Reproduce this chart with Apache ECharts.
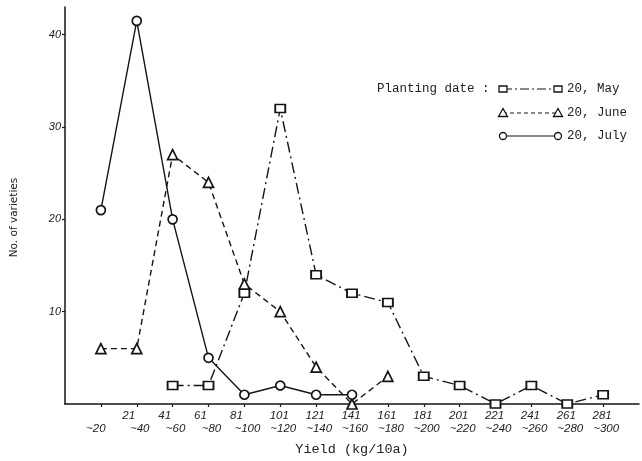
<!DOCTYPE html>
<html>
<head>
<meta charset="utf-8">
<script src="https://cdn.jsdelivr.net/npm/echarts@6/dist/echarts.min.js"></script>
<style>html,body{margin:0;padding:0;background:#fff;}#c{width:642px;height:461px;}</style>
</head>
<body>
<div id="c"></div>
<script>
// ---- data ----
const categories = ['~20','21~40','41~60','61~80','81~100','101~120','121~140','141~160','161~180','181~200','201~220','221~240','241~260','261~280','281~300'];
const yTickValues = [10, 20, 30, 40];
const seriesNames = ['20, May', '20, June', '20, July'];
const mayValues  = [null, null, 2, 2, 12, 32, 14, 12, 11, 3, 2, 0, 2, 0, 1];
const juneValues = [6, 6, 27, 24, 13, 10, 4, 0, 3];
const julyValues = [21, 41.5, 20, 5, 1, 2, 1, 1];

const ink = '#151515';
const axisCats = [''].concat(categories, ['']);
const pad = arr => [null].concat(arr);

const chart = echarts.init(document.getElementById('c'), null, {renderer: 'canvas'});

function legendRow(y, name, dash, sym) {
  const x1 = 503, x2 = 558;
  const els = [{
    type: 'line', shape: {x1: x1, y1: y, x2: x2, y2: y},
    style: {stroke: ink, lineWidth: 1.2, lineDash: dash}
  }];
  [x1, x2].forEach(x => {
    if (sym === 'rect') els.push({type: 'rect', shape: {x: x - 4, y: y - 3, width: 8, height: 6}, style: {fill: '#fff', stroke: ink, lineWidth: 1.3}, z: 2});
    if (sym === 'triangle') els.push({type: 'polygon', shape: {points: [[x, y - 4.5], [x - 4.5, y + 3.5], [x + 4.5, y + 3.5]]}, style: {fill: '#fff', stroke: ink, lineWidth: 1.3}, z: 2});
    if (sym === 'circle') els.push({type: 'circle', shape: {cx: x, cy: y, r: 3.5}, style: {fill: '#fff', stroke: ink, lineWidth: 1.3}, z: 2});
  });
  els.push({type: 'text', x: 567, y: y, style: {text: name, font: '12.5px "Liberation Mono"', fill: '#222', verticalAlign: 'middle'}});
  return els;
}

const option = {
  backgroundColor: '#fff',
  animation: false,
  grid: {left: 65, right: -5, top: 7, bottom: 53, containLabel: false},
  xAxis: {
    type: 'category',
    data: axisCats,
    boundaryGap: false,
    name: 'Yield (kg/10a)',
    nameLocation: 'middle',
    nameGap: 38,
    nameTextStyle: {fontFamily: 'Liberation Mono', fontSize: 13.5, color: '#222', verticalAlign: 'top'},
    axisLine: {lineStyle: {color: ink, width: 1.5}},
    axisTick: {show: true, length: 3, interval: (i) => i > 0 && i <= categories.length, lineStyle: {color: ink, width: 1.2}},
    axisLabel: {
      interval: 0,
      margin: 5,
      color: '#222',
      formatter: function (v) {
        if (!v) return '';
        const parts = v.split('~');
        if (parts[0] === '') return '{a| }\n{c|~' + parts[1] + '}';
        const aStyle = parts[0].length < 3 ? 'a2' : 'a';
        return '{' + aStyle + '|' + parts[0] + '}\n{b|~' + parts[1] + '}';
      },
      rich: {
        a:  {fontFamily: 'Liberation Sans', fontStyle: 'italic', fontSize: 11.5, lineHeight: 13, padding: [0, 2, 0, 0]},
        a2: {fontFamily: 'Liberation Sans', fontStyle: 'italic', fontSize: 11.5, lineHeight: 13, padding: [0, 16, 0, 0]},
        b:  {fontFamily: 'Liberation Sans', fontStyle: 'italic', fontSize: 11.5, lineHeight: 13, padding: [0, 0, 0, 6]},
        c:  {fontFamily: 'Liberation Sans', fontStyle: 'italic', fontSize: 11.5, lineHeight: 13, padding: [0, 10, 0, 0]}
      }
    },
    splitLine: {show: false}
  },
  yAxis: {
    type: 'value',
    min: 0,
    max: 43,
    name: 'No. of varieties',
    nameLocation: 'middle',
    nameGap: 45,
    nameRotate: 90,
    nameTextStyle: {fontFamily: 'DejaVu Sans', fontSize: 10.5, color: '#222', padding: [0, 24, 0, 0]},
    axisLine: {show: true, lineStyle: {color: ink, width: 1.5}},
    axisTick: {show: true, length: 3, customValues: yTickValues, lineStyle: {color: ink, width: 1.2}},
    axisLabel: {customValues: yTickValues, margin: 4, fontFamily: 'Liberation Sans', fontStyle: 'italic', fontSize: 11, color: '#222'},
    splitLine: {show: false}
  },
  series: [
    {
      name: seriesNames[0], type: 'line', data: pad(mayValues),
      symbol: 'rect', symbolSize: [10, 8], showAllSymbol: true,
      lineStyle: {color: ink, width: 1.4, type: [11, 4, 2, 4]},
      itemStyle: {color: '#fff', borderColor: ink, borderWidth: 1.7}, z: 3
    },
    {
      name: seriesNames[1], type: 'line', data: pad(juneValues),
      symbol: 'triangle', symbolSize: [10, 10], showAllSymbol: true,
      lineStyle: {color: ink, width: 1.4, type: [6, 4]},
      itemStyle: {color: '#fff', borderColor: ink, borderWidth: 1.7}, z: 3
    },
    {
      name: seriesNames[2], type: 'line', data: pad(julyValues),
      symbol: 'circle', symbolSize: 9, showAllSymbol: true,
      lineStyle: {color: ink, width: 1.4, type: 'solid'},
      itemStyle: {color: '#fff', borderColor: ink, borderWidth: 1.7}, z: 3
    }
  ],
  graphic: [
    {type: 'text', x: 377, y: 89, style: {text: 'Planting date :', font: '12.5px "Liberation Mono"', fill: '#222', verticalAlign: 'middle'}}
  ].concat(
    legendRow(89, seriesNames[0], [9, 3, 2, 3], 'rect'),
    legendRow(113, seriesNames[1], [4, 3], 'triangle'),
    legendRow(136, seriesNames[2], null, 'circle')
  )
};
chart.setOption(option);
</script>
</body>
</html>
